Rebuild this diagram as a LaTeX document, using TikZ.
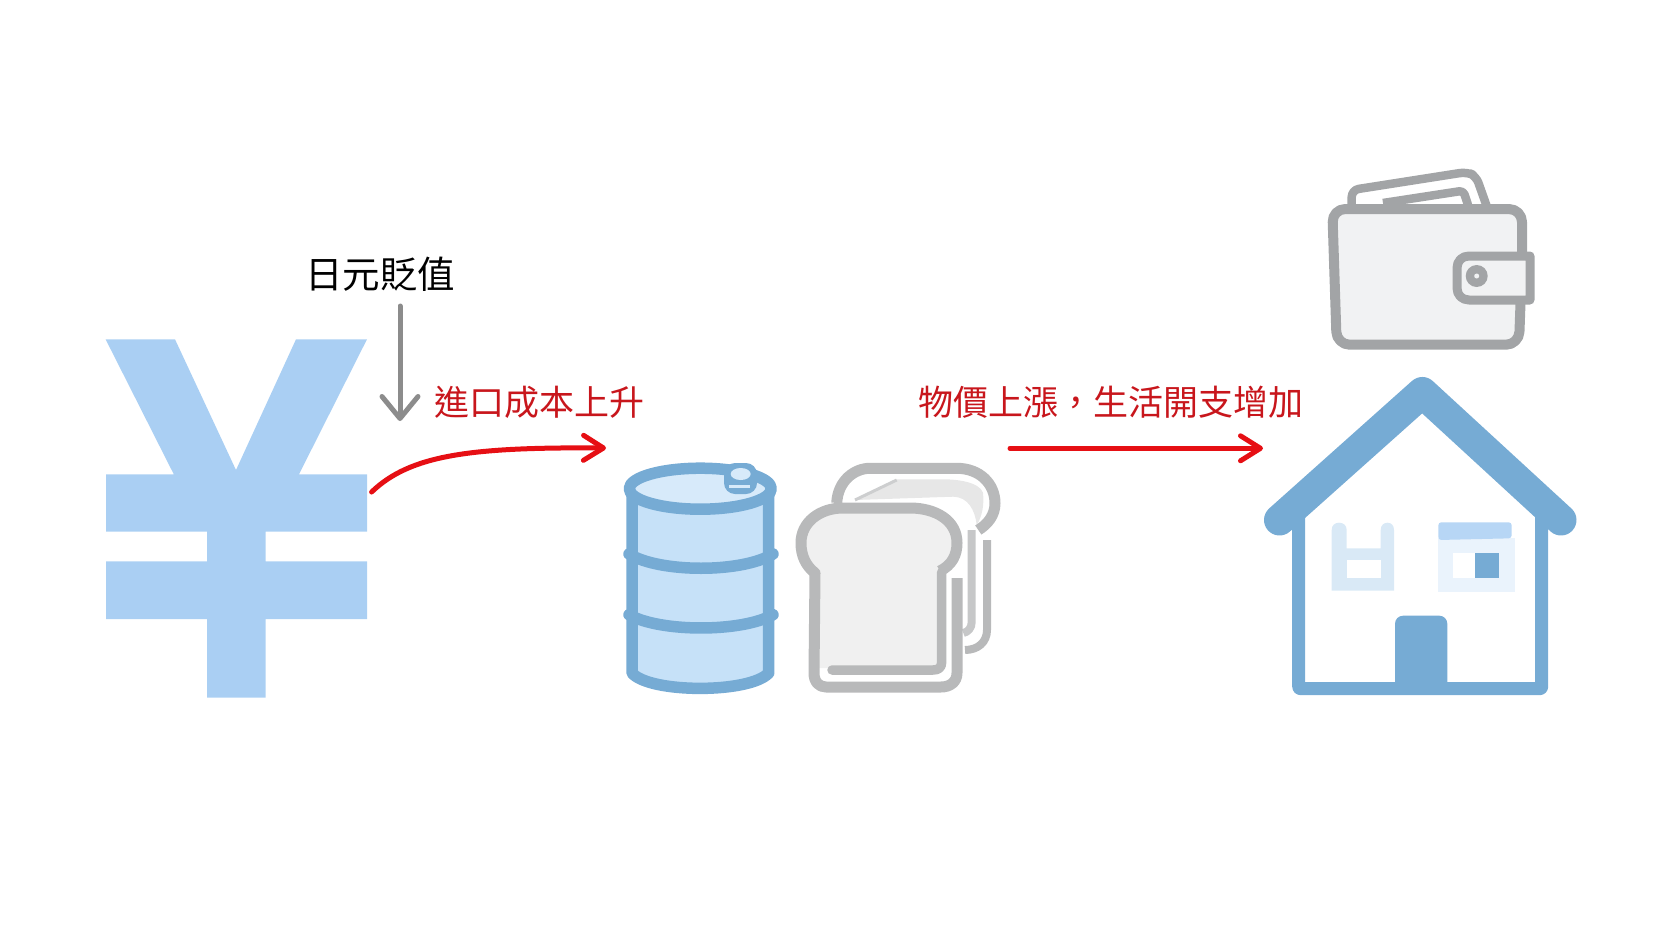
\documentclass[tikz,border=0pt]{standalone}
\usepackage{fontspec}
\newfontfamily\cjk{Noto Sans CJK TC}
\usetikzlibrary{arrows.meta}
\definecolor{yenblue}{HTML}{AACFF3}
\definecolor{linkblue}{HTML}{76ABD4}
\definecolor{paleblue}{HTML}{C6E1F8}
\definecolor{arrowred}{HTML}{E60F14}
\definecolor{textred}{HTML}{C8161C}
\definecolor{breadgray}{HTML}{B8B9BA}
\definecolor{breadpale}{HTML}{F0F0F0}
\definecolor{walletgray}{HTML}{A2A4A6}
\definecolor{walletpale}{HTML}{F1F2F3}
\tikzset{
  label/.style={font=\cjk\fontsize{35}{40}\selectfont, inner sep=0pt},
  redarrow/.style={draw=arrowred, line width=5pt, line cap=round, -{Straight Barb[length=20pt,width=25pt,round]}},
  grayarrow/.style={draw=gray!90, line width=5pt, line cap=round, -{Straight Barb[length=22pt,width=36pt,round]}},
  barrelline/.style={draw=linkblue, line width=11.5pt, line cap=round, line join=round},
  breadline/.style={draw=breadgray, line width=11pt, line cap=butt, line join=round},
  walletline/.style={draw=walletgray, line width=10pt, line join=round},
  houseline/.style={draw=linkblue, line join=round},
}
\begin{document}
\begin{tikzpicture}[x=1pt, y=-1pt]
\useasboundingbox (0,0) rectangle (1666,937);

% yen sign
\fill [yenblue] (105.6,339.3) -- (175,339.3) -- (236,470) -- (296,339.3) -- (367,339.3) -- (299,474.3)
  -- (367,474.3) -- (367,531.7) -- (265.6,531.7) -- (265.6,561.3) -- (367,561.3) -- (367,619)
  -- (265.6,619) -- (265.6,697.7) -- (207,697.7) -- (207,619) -- (106,619) -- (106,561.3)
  -- (207,561.3) -- (207,531.7) -- (106,531.7) -- (106,474.3) -- (173.8,474.3) -- cycle;

% labels
\node [label, text=black, font=\cjk\fontsize{37.5}{42}\selectfont] (devalue) at (380,274) {日元貶值};
\node [label, text=textred] (costup) at (539,402) {進口成本上升};
\node [label, text=textred] (pricesup) at (1111,402) {物價上漲{\char"FF0C}生活開支增加};

% arrows
\coordinate (fallfrom) at (400,306);
\coordinate (fallto) at (400,421);
\coordinate (yenedge) at (371.6,492);
\coordinate (barreltop) at (606,448);
\coordinate (breadedge) at (1010,448.3);
\coordinate (housetop) at (1263,448.3);
\draw [grayarrow] (fallfrom) -- (fallto);
\draw [redarrow] (yenedge) .. controls (410,455) and (470,447) .. (barreltop);
\draw [redarrow] (breadedge) -- (housetop);

% barrel
\fill [paleblue] (632,489) -- (632,673) .. controls (650,693.5) and (750,693.5) .. (768.7,673) -- (768.7,489) -- cycle;
\draw [barrelline] (632,489) -- (632,673) .. controls (650,693.5) and (750,693.5) .. (768.7,673) -- (768.7,489);
\draw [barrelline] (629,554) .. controls (660,573) and (742,573) .. (773,554);
\draw [barrelline] (629,614.7) .. controls (660,632.4) and (742,632.4) .. (773,614.7);
\draw [barrelline, fill=paleblue!70!white] (700.3,488.7) ellipse [x radius=71, y radius=20.5];
\fill [linkblue, rounded corners=11pt] (724,463) rectangle (757,494);
\fill [paleblue!70!white] (740.7,474) ellipse [x radius=10, y radius=6];
\fill [paleblue!70!white] (729,484.5) rectangle (750,487.5);

% back slice of bread
\fill [breadpale!92!gray] (855,500) -- (896.7,479.3) -- (943.3,479.3) .. controls (965,479.3) and (985,485) .. (983.3,496.7)
  .. controls (984,510) and (980,520) .. (976.7,525) .. controls (975,510) and (968,497) .. (953.3,496.7) -- cycle;
\draw [breadline, line width=3pt, draw=breadgray!70] (855,500) -- (896.7,480);
\draw [breadline] (836.7,503) .. controls (838,480) and (855,468.3) .. (870,468.3) -- (956.7,468.3)
  .. controls (980,468.3) and (995,484) .. (995,503.3) .. controls (995,515) and (988,524) .. (978.3,530);
\draw [breadline, line width=8pt] (987,540) -- (987,630) .. controls (987,642) and (978,650) .. (965,650);
\draw [breadline, line width=8pt, draw=breadgray!80] (971.7,530) -- (971.7,622) .. controls (971.7,628) and (968,632) .. (963.3,633);

% front slice of bread
\fill [white] (940,571) .. controls (952,565) and (957,555) .. (957,543) .. controls (957,520) and (935,508) .. (910,508) -- (843,508)
  .. controls (820,508) and (801,522) .. (801,543) .. controls (801,556) and (806,566) .. (815,573) -- (814,673)
  .. controls (814,682) and (819,687) .. (826,687) -- (941,687) .. controls (950,687) and (957,682) .. (957,673) -- (961,578) -- cycle;
\fill [breadpale] (940,571) .. controls (952,565) and (957,555) .. (957,543) .. controls (957,520) and (935,508) .. (910,508) -- (843,508)
  .. controls (820,508) and (801,522) .. (801,543) .. controls (801,556) and (806,566) .. (815,573) -- (818,668) -- (940,668) -- cycle;
\draw [breadline] (940,571) .. controls (952,565) and (957,555) .. (957,543) .. controls (957,520) and (935,508) .. (910,508) -- (843,508)
  .. controls (820,508) and (801,522) .. (801,543) .. controls (801,556) and (806,566) .. (815,573) -- (814,673)
  .. controls (814,682) and (819,687) .. (826,687) -- (941,687) .. controls (950,687) and (957,682) .. (957,673) -- (957,578);
\draw [breadline, line width=9.5pt, line cap=round] (941.7,572) -- (941.7,662) .. controls (941.7,668) and (938,670) .. (933,670) -- (832,670);

% wallet
\draw [walletline, line width=8.5pt, fill=white, rounded corners=7pt] (1351.7,207) -- (1351.7,190) -- (1466.7,172) -- (1476,176) -- (1487,207);
\draw [walletline, line width=8.5pt, fill=white, rounded corners=4pt] (1383,203) -- (1463.3,190.7) -- (1468,205);
\draw [walletline, fill=walletpale, rounded corners=13pt] (1332.3,209) -- (1522,209) -- (1522,262) -- (1519,344.7) -- (1336.7,344.7) -- cycle;
\draw [walletline, line width=9pt, fill=walletpale] (1530,256) -- (1469,256) .. controls (1462,256) and (1457,261) .. (1457,268)
  -- (1457,288) .. controls (1457,295) and (1462,300) .. (1469,300) -- (1530,300) -- cycle;
\fill [walletgray] (1476.7,276) circle [radius=11pt];
\fill [walletpale] (1476.7,276) circle [radius=2.5pt];

% house
\fill [paleblue!65!linkblue!45!white] (1331.7,590.7) -- (1331.7,530) .. controls (1331.7,525) and (1335,522.7) .. (1339,522.7)
  .. controls (1343,522.7) and (1346.7,525) .. (1346.7,530) -- (1346.7,548.3) -- (1380.7,548.3) -- (1380.7,530)
  .. controls (1380.7,525) and (1384,522.7) .. (1387.5,522.7) .. controls (1391,522.7) and (1394,525) .. (1394,530) -- (1394,590.7) -- cycle;
\fill [white] (1346.7,560) rectangle (1380.7,578.3);
\fill [yenblue!25!white] (1438.3,538.3) rectangle (1515,591.7);
\fill [yenblue!85!white, rounded corners=3pt] (1438.3,540) -- (1438.3,522.3) -- (1511.7,522.3) -- (1511.7,538.3) -- cycle;
\fill [white] (1453.3,553.3) rectangle (1475,578.3);
\fill [linkblue] (1475,553.3) rectangle (1499.3,578.3);
\draw [houseline, line width=13pt, rounded corners=2pt] (1298.7,510) -- (1298.7,688.7) -- (1541.7,688.7) -- (1541.7,510);
\fill [linkblue, rounded corners=8pt] (1395,690) -- (1395,615.7) -- (1447.3,615.7) -- (1447.3,690) -- cycle;
\draw [houseline, line width=31pt, line cap=round] (1279.5,520) -- (1422.3,392.5) -- (1561,520);
\end{tikzpicture}
\end{document}
